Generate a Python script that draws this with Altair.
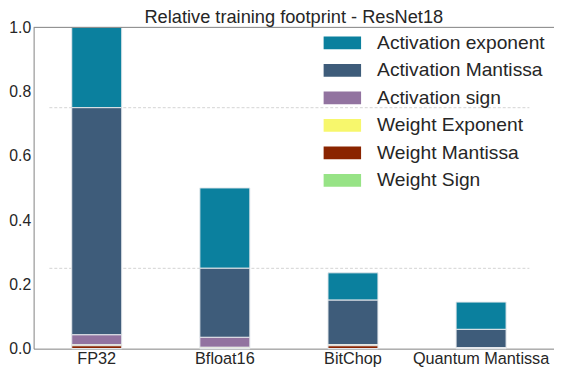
import altair as alt
import pandas as pd

categories = ["FP32", "Bfloat16", "BitChop", "Quantum Mantissa"]
components = ["Activation exponent", "Activation Mantissa", "Activation sign",
              "Weight Exponent", "Weight Mantissa", "Weight Sign"]
colors = ["#0b809e", "#3e5c7a", "#9273a0", "#f7f76c", "#8a2400", "#97e386"]

act_exponent = [0.25, 0.25, 0.085, 0.085]
act_mantissa = [0.707, 0.215, 0.139, 0.0566]
act_sign = [0.031, 0.031, 0.0, 0.0]
w_exponent = [0.003, 0.003, 0.003, 0.001]
w_mantissa = [0.0086, 0.001, 0.0086, 0.002]
w_sign = [0.0004, 0.0002, 0.0004, 0.0004]

series = [act_exponent, act_mantissa, act_sign, w_exponent, w_mantissa, w_sign]
grid_levels = [0.75, 0.25]
y_ticks = [0.0, 0.2, 0.4, 0.6, 0.8, 1.0]

rows = []
for ci, (comp, vals) in enumerate(zip(components, series)):
    for cat, v in zip(categories, vals):
        rows.append({"method": cat, "component": comp, "value": v,
                     "rank": len(components) - ci})
df = pd.DataFrame(rows)

FONT = "Liberation Sans"
TXT = "#262626"
SPINE = "#808080"
W, H = 528, 326

yscale = alt.Scale(domain=[0, 1], nice=False, zero=True)

grid = alt.Chart(pd.DataFrame({"level": grid_levels})).mark_rule(
    color="#c8c8c8", strokeDash=[3, 2], strokeWidth=0.8
).encode(
    y=alt.Y("level:Q", scale=yscale),
    x=alt.value(16), x2=alt.value(503),
)

bars = alt.Chart(df).mark_bar(stroke="#e4e8ec", strokeWidth=1, opacity=1).encode(
    x=alt.X("method:N", sort=categories, title=None,
            scale=alt.Scale(paddingInner=0.61, paddingOuter=0.3358, align=0.443),
            axis=alt.Axis(labelAngle=0, ticks=False, domainColor=SPINE,
                          labelFontSize=16.5, labelColor=TXT, labelFont=FONT,
                          labelPadding=2, grid=False)),
    y=alt.Y("value:Q", stack="zero", scale=yscale, title=None,
            axis=alt.Axis(values=y_ticks, format=".1f", ticks=False,
                          domainColor=SPINE, labelFontSize=16, labelColor=TXT,
                          labelFont=FONT, labelPadding=3, grid=False)),
    color=alt.Color("component:N",
                    scale=alt.Scale(domain=components, range=colors),
                    legend=alt.Legend(
                        title=None, orient="none", legendX=303.5, legendY=6,
                        symbolType="M-2,-0.68H2V0.68H-2Z", symbolSize=361,
                        symbolStrokeWidth=0, symbolOpacity=1,
                        labelFontSize=19.5, labelColor=TXT, labelFont=FONT,
                        labelOffset=25.5, rowPadding=6.9, padding=0,
                        labelLimit=300)),
    order=alt.Order("rank:Q", sort="ascending"),
)

top_spine = alt.Chart(pd.DataFrame({"top": [1.0]})).mark_rule(
    color=SPINE, strokeWidth=1
).encode(
    y=alt.Y("top:Q", scale=yscale),
    x=alt.value(0), x2=alt.value(W),
)

chart = alt.layer(grid, bars, top_spine).properties(
    width=W, height=H,
    title=alt.Title("Relative training footprint - ResNet18", fontSize=18.5,
                    font=FONT, color=TXT, fontWeight="normal", offset=3,
                    dy=10, frame="group"),
    autosize=alt.AutoSizeParams(type="none"),
    padding={"left": 26, "top": 17, "right": 0, "bottom": 19},
).configure_view(stroke=None)

chart.save("out.html", embed_options={"renderer": "svg", "actions": False})
